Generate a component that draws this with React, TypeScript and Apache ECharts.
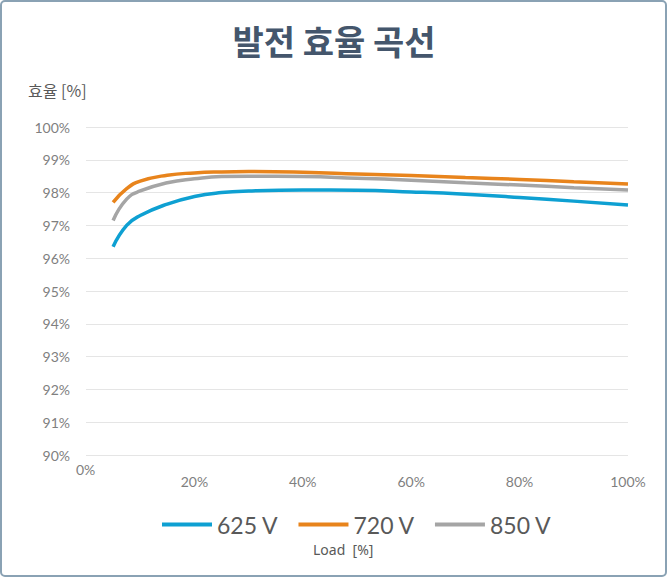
import React, { useEffect, useRef } from "react";
import * as echarts from "echarts";

const loads = [5, 7.5, 10, 15, 20, 25, 30, 40, 50, 60, 70, 80, 90, 100];
const eff625 = [96.35, 97.0, 97.3, 97.65, 97.88, 98.0, 98.05, 98.08, 98.07, 98.02, 97.95, 97.85, 97.74, 97.62];
const eff720 = [97.7, 98.12, 98.35, 98.53, 98.6, 98.63, 98.64, 98.62, 98.57, 98.52, 98.46, 98.4, 98.33, 98.26];
const eff850 = [97.15, 97.8, 98.05, 98.3, 98.42, 98.49, 98.5, 98.49, 98.44, 98.38, 98.3, 98.23, 98.15, 98.08];
const seriesNames = ["625 V", "720 V", "850 V"];
const colors = ["#0ea0d2", "#e8841c", "#a5a5a5"];

const title = "발전 효율 곡선";
const yName = "효율 [%]";
const xName = "Load  [%]";
const zeroLabel = "0%";

export default function App() {
  const ref = useRef<HTMLDivElement>(null);
  useEffect(() => {
    if (!ref.current) return;
    const chart = echarts.init(ref.current, null, { renderer: "svg" });
    const data = [eff625, eff720, eff850];
    chart.setOption({
      animation: false,
      color: colors,
      title: {
        text: title,
        left: "center",
        top: 18,
        textStyle: { fontSize: 34, fontWeight: "bold", color: "#44566c", fontFamily: "Noto Sans CJK KR" },
      },
      legend: {
        data: seriesNames,
        top: 508,
        left: 157,
        itemWidth: 50,
        itemHeight: 4,
        itemGap: 20,
        icon: "rect",
        textStyle: { fontSize: 23, color: "#595959", fontFamily: "Lato" },
      },
      grid: { left: 86, right: 40, top: 127, bottom: 131 },
      xAxis: {
        type: "value",
        min: 0,
        max: 100,
        interval: 20,
        axisLine: { show: false },
        axisTick: { show: false },
        splitLine: { show: false },
        axisLabel: {
          margin: 19,
          color: "#7f7f7f",
          fontSize: 14,
          fontFamily: "Lato",
          formatter: (v: number) => (v === 0 ? "" : v + "%"),
        },
      },
      yAxis: {
        type: "value",
        min: 90,
        max: 100,
        interval: 1,
        axisLine: { show: false },
        axisTick: { show: false },
        splitLine: { lineStyle: { color: "#e5e5e5", width: 1 } },
        axisLabel: {
          margin: 16,
          color: "#7f7f7f",
          fontSize: 14,
          fontFamily: "Lato",
          formatter: (v: number) => v + "%",
        },
      },
      graphic: [
        {
          type: "rect",
          shape: { x: 1, y: 1, width: 665, height: 575, r: 4 },
          style: { fill: "none", stroke: "#8aa2b4", lineWidth: 2 },
          silent: true,
        },
        {
          type: "text",
          left: 28,
          top: 82,
          style: { text: yName, fontSize: 16, fill: "#595959", fontFamily: "Noto Sans CJK KR" },
        },
        {
          type: "text",
          left: 313,
          top: 542,
          style: { text: xName, fontSize: 14, fill: "#595959", fontFamily: "Noto Sans" },
        },
        {
          type: "text",
          left: 76,
          top: 462,
          style: { text: zeroLabel, fontSize: 14, fill: "#7f7f7f", fontFamily: "Lato" },
        },
      ],
      series: seriesNames.map((name, i) => ({
        name,
        type: "line",
        smooth: true,
        showSymbol: false,
        symbol: "none",
        lineStyle: { width: 3.5, color: colors[i] },
        data: loads.map((x, j) => [x, data[i][j]]),
        z: i === 0 ? 3 : i === 1 ? 2 : 1,
      })),
    });
    return () => chart.dispose();
  }, []);
  return (
    <div style={{ position: "fixed", left: 0, top: 0, width: 668, height: 586, background: "#fff" }}>
      <div ref={ref} style={{ width: 668, height: 586 }} />
    </div>
  );
}
